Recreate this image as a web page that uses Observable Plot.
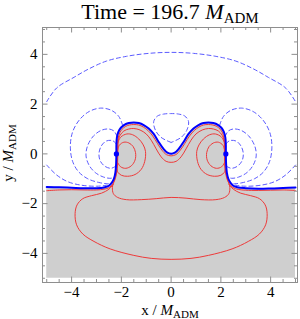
<!DOCTYPE html>
<html><head><meta charset="utf-8">
<script src="https://cdn.jsdelivr.net/npm/d3@7"></script>
<script src="https://cdn.jsdelivr.net/npm/@observablehq/plot@0.6"></script>
<style>
body{margin:0;background:#fff;}
#chart{width:300px;height:319px;}
#chart svg text{font-family:"Liberation Serif","Times New Roman",serif;}
</style></head><body><div id="chart"></div>
<script>
// ---------- data ----------
const xDomain = [-5.17, 5.08];
const yDomain = [-5.17, 5.08];
const majorTicks = [-4, -2, 0, 2, 4];
const minorTicks = [-5,-4.5,-3.5,-3,-2.5,-1.5,-1,-0.5,0.5,1,1.5,2.5,3,3.5,4.5,5];
const grayFloor = -5;

const blueBoundary = [[-5,-1.33],[-4.5,-1.34],[-4,-1.36],[-3.5,-1.38],[-3,-1.38],[-2.7,-1.35],[-2.5,-1.28],[-2.38,-1.15],[-2.3,-1.0],[-2.24,-0.75],[-2.21,-0.4],[-2.2,0],[-2.2,0.35],[-2.18,0.65],[-2.12,0.88],[-2.02,1.05],[-1.88,1.17],[-1.7,1.24],[-1.5,1.26],[-1.3,1.24],[-1.1,1.16],[-0.9,1.02],[-0.7,0.8],[-0.5,0.48],[-0.32,0.22],[-0.15,0.05],[0,0.01],[0.15,0.05],[0.32,0.22],[0.5,0.48],[0.7,0.8],[0.9,1.02],[1.1,1.16],[1.3,1.24],[1.5,1.26],[1.7,1.24],[1.88,1.17],[2.02,1.05],[2.12,0.88],[2.18,0.65],[2.2,0.35],[2.2,0],[2.21,-0.4],[2.24,-0.75],[2.3,-1.0],[2.38,-1.15],[2.5,-1.28],[2.7,-1.35],[3,-1.38],[3.5,-1.4],[4,-1.39],[4.5,-1.37],[5,-1.35]];

const blueDots = [[-2.2, 0], [2.2, 0]];

const redEdge = [[-5,-1.48],[-4.5,-1.45],[-4,-1.44],[-3.5,-1.45],[-3,-1.45],[-2.7,-1.42],[-2.48,-1.35],[-2.34,-1.2],[-2.25,-1.02],[-2.19,-0.75],[-2.16,-0.4],[-2.15,0],[-2.15,0.35],[-2.13,0.62],[-2.07,0.84],[-1.97,0.99],[-1.84,1.1],[-1.68,1.16],[-1.5,1.18],[-1.3,1.16],[-1.12,1.08],[-0.93,0.94],[-0.74,0.72],[-0.55,0.42],[-0.37,0.15],[-0.19,-0.03],[0,-0.08],[0.19,-0.03],[0.37,0.15],[0.55,0.42],[0.74,0.72],[0.93,0.94],[1.12,1.08],[1.3,1.16],[1.5,1.18],[1.68,1.16],[1.84,1.1],[1.97,0.99],[2.07,0.84],[2.13,0.62],[2.15,0.35],[2.15,0],[2.16,-0.4],[2.19,-0.75],[2.25,-1.02],[2.34,-1.2],[2.48,-1.35],[2.7,-1.43],[3,-1.46],[3.5,-1.47],[4,-1.46],[4.5,-1.45],[5,-1.47]];

const redOuter = [[-2.13,0.55],[-2.05,0.75],[-1.9,0.92],[-1.7,1.0],[-1.5,1.02],[-1.25,0.96],[-1.0,0.8],[-0.8,0.55],[-0.6,0.2],[-0.4,-0.12],[-0.2,-0.3],[0,-0.34],[0.2,-0.3],[0.4,-0.12],[0.6,0.2],[0.8,0.55],[1.0,0.8],[1.25,0.96],[1.5,1.02],[1.7,1.0],[1.9,0.92],[2.05,0.75],[2.13,0.55],[2.14,0.2],[2.15,-0.3],[2.18,-0.67],[2.28,-1.05],[2.36,-1.35],[2.32,-1.6],[2.15,-1.75],[1.8,-1.84],[1.2,-1.84],[0.6,-1.78],[0,-1.75],[-0.6,-1.8],[-1.2,-1.84],[-1.8,-1.84],[-2.15,-1.75],[-2.32,-1.6],[-2.36,-1.35],[-2.28,-1.05],[-2.18,-0.67],[-2.15,-0.3],[-2.14,0.2],[-2.13,0.55]];

const redLeftMid = [[-2.16,0.42],[-2.02,0.68],[-1.78,0.8],[-1.55,0.77],[-1.3,0.6],[-1.12,0.36],[-1.03,0.1],[-1.06,-0.3],[-1.2,-0.62],[-1.45,-0.83],[-1.75,-0.9],[-2.0,-0.86],[-2.14,-0.74],[-2.18,-0.62]];
const redRightMid = [[2.16,0.42],[2.02,0.68],[1.78,0.8],[1.55,0.77],[1.3,0.6],[1.12,0.36],[1.03,0.1],[1.06,-0.3],[1.2,-0.62],[1.45,-0.83],[1.75,-0.9],[2.0,-0.86],[2.14,-0.74],[2.18,-0.62]];
const redLeftInner = [[-2.16,0.12],[-2.08,0.35],[-1.9,0.47],[-1.7,0.44],[-1.53,0.3],[-1.43,0.05],[-1.45,-0.25],[-1.6,-0.48],[-1.82,-0.58],[-2.03,-0.52],[-2.15,-0.35]];
const redRightInner = [[2.16,0.12],[2.08,0.35],[1.9,0.47],[1.7,0.44],[1.53,0.3],[1.43,0.05],[1.45,-0.25],[1.6,-0.48],[1.82,-0.58],[2.03,-0.52],[2.15,-0.35]];
const redBottom = [[-2.32,-1.22],[-2.5,-1.42],[-2.8,-1.58],[-3.2,-1.68],[-3.55,-1.8],[-3.78,-2.05],[-3.86,-2.4],[-3.8,-2.85],[-3.55,-3.22],[-3.1,-3.52],[-2.45,-3.82],[-1.5,-4.08],[-0.8,-4.2],[0,-4.24],[0.8,-4.2],[1.5,-4.08],[2.45,-3.82],[3.1,-3.52],[3.55,-3.22],[3.8,-2.85],[3.86,-2.4],[3.78,-2.05],[3.55,-1.8],[3.2,-1.68],[2.8,-1.58],[2.5,-1.42],[2.32,-1.22]];

const dashTop = [[-5,2.1],[-4.6,2.65],[-3.9,3.08],[-3.3,3.42],[-2.6,3.73],[-1.8,3.92],[-0.9,4.04],[0,4.08],[0.9,4.04],[1.8,3.92],[2.6,3.73],[3.3,3.42],[3.9,3.08],[4.6,2.65],[5,2.1]];
const dashLeftLow = [[-5,-0.45],[-4.6,-0.85],[-4.15,-1.12],[-3.6,-1.26],[-3.0,-1.3],[-2.6,-1.26],[-2.4,-1.2]];
const dashRightLow = [[5,-0.45],[4.6,-0.85],[4.15,-1.12],[3.6,-1.26],[3.0,-1.3],[2.6,-1.26],[2.4,-1.2]];
const dashLeftL1 = [[-1.95,1.15],[-2.1,1.5],[-2.4,1.75],[-2.83,1.84],[-3.3,1.7],[-3.7,1.35],[-3.97,0.85],[-4.05,0.27],[-3.96,-0.3],[-3.72,-0.72],[-3.35,-1.0],[-2.9,-1.15],[-2.55,-1.2],[-2.36,-1.17]];
const dashRightL1 = [[1.95,1.15],[2.1,1.5],[2.4,1.75],[2.83,1.84],[3.3,1.7],[3.7,1.35],[3.97,0.85],[4.05,0.27],[3.96,-0.3],[3.72,-0.72],[3.35,-1.0],[2.9,-1.15],[2.55,-1.2],[2.36,-1.17]];
const dashLeftL2 = [[-2.17,0.7],[-2.3,0.92],[-2.5,1.0],[-2.8,0.95],[-3.12,0.72],[-3.36,0.32],[-3.42,-0.08],[-3.3,-0.45],[-3.05,-0.75],[-2.72,-0.93],[-2.42,-0.98],[-2.26,-0.92]];
const dashRightL2 = [[2.17,0.7],[2.3,0.92],[2.5,1.0],[2.8,0.95],[3.12,0.72],[3.36,0.32],[3.42,-0.08],[3.3,-0.45],[3.05,-0.75],[2.72,-0.93],[2.42,-0.98],[2.26,-0.92]];
const dashLeftL3 = [[-2.2,0.4],[-2.35,0.53],[-2.6,0.52],[-2.8,0.33],[-2.9,0.02],[-2.85,-0.28],[-2.66,-0.5],[-2.42,-0.58],[-2.23,-0.5]];
const dashRightL3 = [[2.2,0.4],[2.35,0.53],[2.6,0.52],[2.8,0.33],[2.9,0.02],[2.85,-0.28],[2.66,-0.5],[2.42,-0.58],[2.23,-0.5]];
const dashCenter = [[0,0.46],[-0.4,0.66],[-0.63,0.95],[-0.7,1.3],[-0.55,1.52],[-0.3,1.6],[0,1.62],[0.3,1.6],[0.55,1.52],[0.7,1.3],[0.63,0.95],[0.4,0.66],[0,0.46]];

// ---------- build ----------
const toRows = (arr, id) => arr.map(([x, y]) => ({x, y, id}));
const redRows = [
  ...toRows(redEdge, "edge"), ...toRows(redOuter, "outer"),
  ...toRows(redLeftMid, "lm"), ...toRows(redRightMid, "rm"),
  ...toRows(redLeftInner, "li"), ...toRows(redRightInner, "ri"),
  ...toRows(redBottom, "bottom")
];
const dashRows = [
  ...toRows(dashTop, "top"), ...toRows(dashLeftLow, "ll"), ...toRows(dashRightLow, "rl"),
  ...toRows(dashLeftL1, "l1"), ...toRows(dashRightL1, "r1"),
  ...toRows(dashLeftL2, "l2"), ...toRows(dashRightL2, "r2"),
  ...toRows(dashLeftL3, "l3"), ...toRows(dashRightL3, "r3"),
  ...toRows(dashCenter, "c")
];
const boundaryRows = toRows(blueBoundary, "b");
const dotRows = toRows(blueDots, "d");

const W = 300, H = 319, mt = 27, mb = 37, ml = 42, mr = 3;
const pw = W - ml - mr, ph = H - mt - mb;
const frameColor = "#8e8e8e";
const serif = "Liberation Serif";

const chart = Plot.plot({
  width: W, height: H,
  marginTop: mt, marginBottom: mb, marginLeft: ml, marginRight: mr,
  x: {domain: xDomain, axis: null},
  y: {domain: yDomain, axis: null},
  style: {fontFamily: serif, fontSize: "15px", color: "black", background: "white"},
  marks: [
    Plot.areaY(boundaryRows, {x: "x", y1: grayFloor, y2: "y", fill: "#cfcfcf", curve: "catmull-rom"}),
    Plot.line(redRows, {x: "x", y: "y", z: "id", stroke: "#ee3a3a", strokeWidth: 1, curve: "catmull-rom"}),
    Plot.line(dashRows, {x: "x", y: "y", z: "id", stroke: "#5a5aff", strokeWidth: 1, strokeDasharray: "4,3", curve: "catmull-rom"}),
    Plot.line(boundaryRows, {x: "x", y: "y", stroke: "#0000ff", strokeWidth: 2, curve: "catmull-rom"}),
    Plot.dot(dotRows, {x: "x", y: "y", r: 2.6, fill: "#0000ff"}),
    Plot.frame({stroke: frameColor}),
    Plot.tickX(minorTicks, {x: d => d, insetTop: ph - 3, stroke: frameColor}),
    Plot.tickX(majorTicks, {x: d => d, insetTop: ph - 5.5, stroke: frameColor}),
    Plot.tickX(minorTicks, {x: d => d, insetBottom: ph - 3, stroke: frameColor}),
    Plot.tickX(majorTicks, {x: d => d, insetBottom: ph - 5.5, stroke: frameColor}),
    Plot.tickY(minorTicks, {y: d => d, insetRight: pw - 3, stroke: frameColor}),
    Plot.tickY(majorTicks, {y: d => d, insetRight: pw - 5.5, stroke: frameColor}),
    Plot.tickY(minorTicks, {y: d => d, insetLeft: pw - 3, stroke: frameColor}),
    Plot.tickY(majorTicks, {y: d => d, insetLeft: pw - 5.5, stroke: frameColor}),
    Plot.axisX(majorTicks, {anchor: "bottom", tickSize: 0, tickPadding: 4, label: null, fontSize: 15, fontFamily: serif}),
    Plot.axisY(majorTicks, {anchor: "left", tickSize: 0, tickPadding: 5, label: null, fontSize: 15, fontFamily: serif})
  ]
});

document.getElementById("chart").appendChild(chart);

// ---------- text labels with italic / subscript ----------
const svg = d3.select(chart);
function label(sel, size, subSize, subDy, prefix) {
  sel.attr("font-family", serif).style("font-family", serif).style("font-size", size + "px").attr("fill", "black").attr("text-anchor", "middle");
  sel.append("tspan").text(prefix);
  sel.append("tspan").style("font-style", "italic").text("M");
  sel.append("tspan").style("font-size", subSize + "px").attr("dy", subDy).text("ADM");
}
label(svg.append("text").attr("x", 170).attr("y", 19), 22, 15, 4, "Time = 196.7 ");
label(svg.append("text").attr("x", 170).attr("y", 314.5), 15, 11, 3, "x / ");
label(svg.append("text").attr("transform", "translate(13,153) rotate(-90)"), 15, 11, 3, "y / ");
</script>
</body></html>
